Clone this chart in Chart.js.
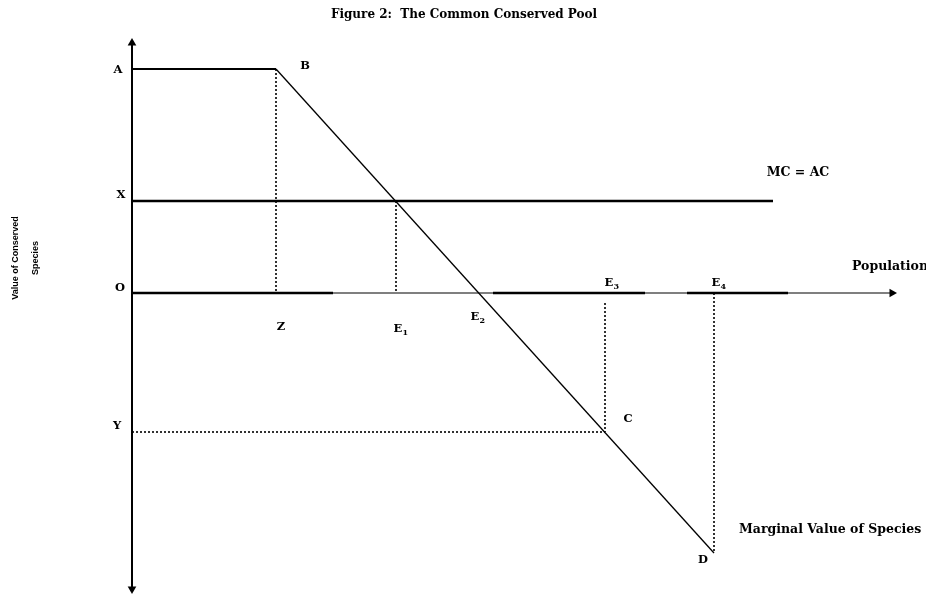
<!DOCTYPE html>
<html>
<head>
<meta charset="utf-8">
<script src="https://cdn.jsdelivr.net/npm/chart.js@4.4.1/dist/chart.umd.min.js"></script>
<style>
body{margin:0;background:#fff;}
#wrap{width:926px;height:598px;}
</style>
</head>
<body>
<div id="wrap"><canvas id="pool" width="926" height="598"></canvas></div>
<script>
// 값 (원점 O = 0,0)
const valueA = 22.4, valueX = 9.2, valueY = -13.9, valueD = -26.0;
const popZ = 14.4, popE1 = 26.4, popE2 = 34.7, popE3 = 47.3, popE4 = 58.2;
// 한계가치 곡선 A-B-D
const curveX = [0, popZ, popE4];
const curveY = [valueA, valueA, valueD];
// MC = AC 선
const mcX = [0, 64.1];
const mcY = [valueX, valueX];
// 축 (끝은 화살표)
const popAxisX = [0, 76.0];
const popAxisThick = [[0, 20.1], [36.1, 51.3], [55.5, 65.6]];
const valueAxisY = [25.0, -29.6];
// 점선 (x1, y1, x2, y2)
const guideZ = [popZ, valueA, popZ, 0];
const guideE1 = [popE1, valueX, popE1, 0];
const guideE3 = [popE3, -1.0, popE3, valueY];
const guideE4 = [popE4, 0, popE4, valueD];
const guideY = [0, valueY, popE3, valueY];
// 라벨 [글자, 아래첨자, x, y]
const pointLabels = [
	['A','',-1.4,22.3],['B','',17.3,22.7],['X','',-1.1,9.8],['O','',-1.2,0.5],
	['Z','',14.9,-3.4],['E','1',26.6,-3.6],['E','2',34.3,-2.4],['E','3',47.7,1.0],
	['E','4',58.4,1.0],['Y','',-1.5,-13.3],['C','',49.6,-12.6],['D','',57.1,-26.7]
];
// [글자, x, y, 정렬]
const noteLabels = [['MC = AC',66.6,12.0,'center'],['Population',72.0,2.6,'left'],['Marginal Value of Species',60.7,-23.7,'left']];
const titleText = 'Figure 2:  The Common Conserved Pool';
const yTitle = ['Value of Conserved','Species'];

function seg(g){
	return [{x:g[0],y:g[1]},{x:g[2],y:g[3]}];
}
function pts(xs, ys){
	return xs.map(function(v,i){ return {x:v, y:ys[i]}; });
}
function dotted(g){
	return {data:seg(g), borderColor:'#000', borderWidth:1.6, borderDash:[2,2], pointRadius:0, showLine:true};
}
function thickAxis(r){
	return {data:[{x:r[0],y:0},{x:r[1],y:0}], borderColor:'#000', borderWidth:2.4, pointRadius:0, showLine:true};
}

var labelFont = 'bold 11.5px "DejaVu Serif"';
//라벨 그리기 플러그인
const labelPlugin = {
	id:'labels',
	afterDraw:function(chart){
		var ctx = chart.ctx, xs = chart.scales.x, ys = chart.scales.y;
		ctx.save();
		ctx.fillStyle = '#000';
		ctx.textBaseline = 'middle';
		ctx.textAlign = 'center';
		ctx.font = labelFont;
		pointLabels.forEach(function(l){
			var px = xs.getPixelForValue(l[2]), py = ys.getPixelForValue(l[3]);
			ctx.fillText(l[0], px, py);
			if(l[1]!=''){//아래첨자
				var w = ctx.measureText(l[0]).width;
				ctx.font = 'bold 8px "DejaVu Serif"';
				ctx.textAlign = 'left';
				ctx.fillText(l[1], px+w/2, py+4);
				ctx.font = labelFont;
				ctx.textAlign = 'center';
			}
		});
		ctx.font = 'bold 12.5px "DejaVu Serif"';
		noteLabels.forEach(function(l){
			ctx.textAlign = l[3];
			ctx.fillText(l[0], xs.getPixelForValue(l[1]), ys.getPixelForValue(l[2]));
		});
		// 제목
		ctx.textAlign = 'center';
		ctx.font = 'bold 12px "DejaVu Serif"';
		ctx.fillText(titleText, 464, 15);
		// 세로축 제목
		ctx.font = 'bold 9px "Liberation Sans"';
		ctx.translate(26, 258);
		ctx.rotate(-Math.PI/2);
		ctx.fillText(yTitle[0], 0, -10);
		ctx.fillText(yTitle[1], 0, 10);
		ctx.restore();
	}
};

var ctx1 = document.getElementById('pool');
var poolChart = new Chart(ctx1, {
	type:'scatter',
	data:{
		datasets:[
			{ //세로축
				data:[{x:0,y:valueAxisY[0]},{x:0,y:valueAxisY[1]}],
				borderColor:'#000', borderWidth:2, showLine:true,
				pointStyle:'triangle', pointRadius:[5,5], pointRotation:[0,180],
				backgroundColor:'#000', pointBorderWidth:0
			},
			{ //가로축 (Population)
				data:[{x:popAxisX[0],y:0},{x:popAxisX[1],y:0}],
				borderColor:'#000', borderWidth:1.2, showLine:true,
				pointStyle:'triangle', pointRadius:[0,5], pointRotation:[0,90],
				backgroundColor:'#000', pointBorderWidth:0
			},
			thickAxis(popAxisThick[0]), thickAxis(popAxisThick[1]), thickAxis(popAxisThick[2]),
			{ //MC = AC
				data:pts(mcX, mcY), borderColor:'#000', borderWidth:2.4, showLine:true, pointRadius:0
			},
			{ //한계가치 A-B-D
				data:pts(curveX, curveY), borderColor:'#000', showLine:true, pointRadius:0,
				borderWidth:1.3,
				segment:{ borderWidth:function(c){ return c.p0DataIndex==0 ? 2.2 : 1.3; } }
			},
			dotted(guideZ), dotted(guideE1), dotted(guideE3), dotted(guideE4), dotted(guideY)
		]
	},
	options:{
		responsive:false,
		animation:false,
		devicePixelRatio:1,
		layout:{padding:0, autoPadding:false},
		plugins:{legend:{display:false}, tooltip:{enabled:false}},
		scales:{
			x:{type:'linear', display:false, min:-13.2, max:79.4},
			y:{type:'linear', display:false, min:-30.5, max:29.3}
		}
	},
	plugins:[labelPlugin]
});
</script>
</body>
</html>
